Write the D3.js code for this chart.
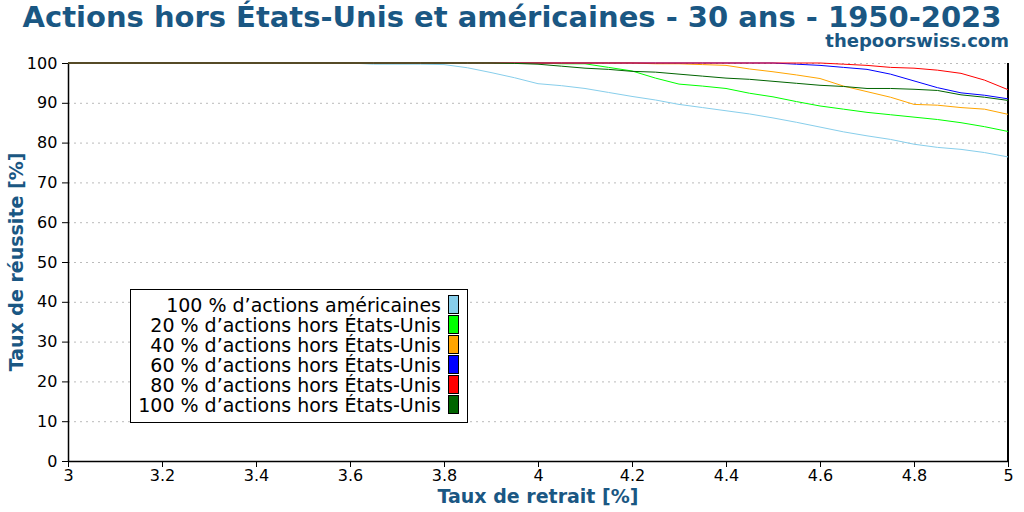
<!DOCTYPE html>
<html>
<head>
<meta charset="utf-8">
<script src="https://cdn.jsdelivr.net/npm/d3@7"></script>
<style>
  body { margin: 0; background: #fff; }
  svg { display: block; font-family: "DejaVu Sans", sans-serif; }
</style>
</head>
<body>
<div id="chart"></div>
<script>
// withdrawal rates (%)
const rates = [3.0, 3.6, 3.65, 3.7, 3.75, 3.8, 3.85, 3.9, 3.95, 4.0, 4.05, 4.1, 4.15, 4.2, 4.25,
  4.3, 4.35, 4.4, 4.45, 4.5, 4.55, 4.6, 4.65, 4.7, 4.75, 4.8, 4.85, 4.9, 4.95, 5.0];

// success rates (%) per allocation
const us100 = [100, 100, 99.7, 99.7, 99.7, 99.6, 98.8, 97.6, 96.3, 94.8, 94.3, 93.6, 92.6, 91.6, 90.7,
  89.6, 88.8, 88.0, 87.2, 86.2, 85.1, 83.9, 82.7, 81.7, 80.8, 79.6, 78.8, 78.3, 77.5, 76.4];
const intl20 = [100, 100, 100, 100, 100, 100, 100, 100, 100, 100, 99.8, 99.8, 98.9, 98.0, 96.2,
  94.7, 94.2, 93.6, 92.4, 91.5, 90.3, 89.2, 88.4, 87.6, 87.0, 86.4, 85.8, 85.0, 84.0, 82.8];
const intl40 = [100, 100, 100, 100, 100, 100, 100, 100, 100, 100, 100, 100, 100, 100, 99.8,
  99.8, 99.6, 99.4, 98.5, 97.8, 97.0, 96.1, 94.2, 92.8, 91.4, 89.6, 89.4, 88.8, 88.4, 87.1];
const intl60 = [100, 100, 100, 100, 100, 100, 100, 100, 100, 100, 100, 100, 100, 100, 100,
  100, 100, 100, 100, 100, 99.7, 99.4, 98.9, 98.4, 97.2, 95.5, 93.8, 92.5, 91.9, 91.0];
const intl80 = [100, 100, 100, 100, 100, 100, 100, 100, 100, 100, 100, 100, 100, 100, 100,
  100, 100, 100, 100, 100, 100, 100, 99.7, 99.4, 98.9, 98.7, 98.2, 97.4, 95.7, 93.3];
const intl100 = [100, 100, 100, 100, 100, 100, 100, 100, 99.9, 99.7, 99.2, 98.7, 98.4, 97.9, 97.7,
  97.2, 96.7, 96.2, 95.9, 95.4, 94.9, 94.4, 94.1, 93.6, 93.6, 93.4, 93.1, 92.0, 91.4, 90.6];

const seriesNames = [
  "100 % d’actions américaines",
  "20 % d’actions hors États-Unis",
  "40 % d’actions hors États-Unis",
  "60 % d’actions hors États-Unis",
  "80 % d’actions hors États-Unis",
  "100 % d’actions hors États-Unis"
];
const seriesValues = [us100, intl20, intl40, intl60, intl80, intl100];
const seriesColors = ["#87ceeb", "#00ff00", "#ffa500", "#0000ff", "#ff0000", "#006400"];

const xTicks = [3, 3.2, 3.4, 3.6, 3.8, 4, 4.2, 4.4, 4.6, 4.8, 5];
const yTicks = [0, 10, 20, 30, 40, 50, 60, 70, 80, 90, 100];

const titleText = "Actions hors États-Unis et américaines - 30 ans - 1950-2023";
const siteText = "thepoorswiss.com";
const xLabel = "Taux de retrait [%]";
const yLabel = "Taux de réussite [%]";

const width = 1024, height = 512;
const margin = { top: 63, right: 16, bottom: 51, left: 68 };
const blue = "#1a5783";

const svg = d3.select("#chart").append("svg")
  .attr("width", width)
  .attr("height", height);

const x = d3.scaleLinear().domain([3, 5]).range([margin.left, width - margin.right]);
const y = d3.scaleLinear().domain([0, 100]).range([height - margin.bottom, margin.top]);

// grid
svg.append("g")
  .selectAll("line")
  .data(yTicks.filter((d) => d > 0))
  .join("line")
  .attr("x1", x(3))
  .attr("x2", x(5))
  .attr("y1", (d) => y(d) + 0.5)
  .attr("y2", (d) => y(d) + 0.5)
  .attr("stroke", "#bbb")
  .attr("stroke-width", 1)
  .attr("stroke-dasharray", "2,4");

// axes
const xAxis = svg.append("g")
  .attr("transform", `translate(0,${y(0)})`)
  .call(d3.axisBottom(x).tickValues(xTicks).tickSize(6).tickSizeOuter(0).tickFormat(d3.format("")));
const yAxis = svg.append("g")
  .attr("transform", `translate(${x(3)},0)`)
  .call(d3.axisLeft(y).tickValues(yTicks).tickSize(6).tickSizeOuter(0));

[xAxis, yAxis].forEach((ax) => {
  ax.selectAll("text")
    .attr("font-family", "DejaVu Sans, sans-serif")
    .attr("font-size", 16)
    .attr("fill", "#000");
  ax.select(".domain").attr("stroke", "#000").attr("stroke-width", 1.5);
  ax.selectAll(".tick line").attr("stroke", "#000");
});
xAxis.selectAll("text").attr("dy", "0.7em");
yAxis.selectAll("text").attr("dx", "-0.1em");

// right border
svg.append("line")
  .attr("x1", x(5))
  .attr("x2", x(5))
  .attr("y1", y(100))
  .attr("y2", y(0))
  .attr("stroke", "#000")
  .attr("stroke-width", 2);

// lines
const line = d3.line()
  .x((d, i) => x(rates[i]))
  .y((d) => y(d));

svg.append("g")
  .selectAll("path")
  .data(seriesValues)
  .join("path")
  .attr("fill", "none")
  .attr("stroke", (d, i) => seriesColors[i])
  .attr("stroke-width", 1)
  .attr("d", line);

// titles
svg.append("text")
  .attr("x", width / 2)
  .attr("y", 27)
  .attr("text-anchor", "middle")
  .attr("font-size", 29)
  .attr("font-weight", "bold")
  .attr("fill", blue)
  .text(titleText);

svg.append("text")
  .attr("x", 1009)
  .attr("y", 47)
  .attr("text-anchor", "end")
  .attr("font-size", 18)
  .attr("font-weight", "bold")
  .attr("fill", blue)
  .text(siteText);

svg.append("text")
  .attr("x", (x(3) + x(5)) / 2)
  .attr("y", 503)
  .attr("text-anchor", "middle")
  .attr("font-size", 19)
  .attr("font-weight", "bold")
  .attr("fill", blue)
  .text(xLabel);

svg.append("text")
  .attr("transform", `translate(23,${(y(0) + y(100)) / 2}) rotate(-90)`)
  .attr("text-anchor", "middle")
  .attr("font-size", 19)
  .attr("font-weight", "bold")
  .attr("fill", blue)
  .text(yLabel);

// legend
const legend = svg.append("g");
legend.append("rect")
  .attr("x", 130.5)
  .attr("y", 289.5)
  .attr("width", 337)
  .attr("height", 133)
  .attr("fill", "#fff")
  .attr("stroke", "#000")
  .attr("stroke-width", 1);

const rows = legend.selectAll("g.row")
  .data(seriesNames)
  .join("g")
  .attr("class", "row")
  .attr("transform", (d, i) => `translate(0,${305 + i * 20})`);

rows.append("text")
  .attr("x", 441)
  .attr("dy", "0.35em")
  .attr("text-anchor", "end")
  .attr("font-size", 19)
  .attr("fill", "#000")
  .text((d) => d);

rows.append("rect")
  .attr("x", 448.5)
  .attr("y", -9.5)
  .attr("width", 10)
  .attr("height", 18)
  .attr("fill", (d, i) => seriesColors[i])
  .attr("stroke", "#000")
  .attr("stroke-width", 1);
</script>
</body>
</html>
